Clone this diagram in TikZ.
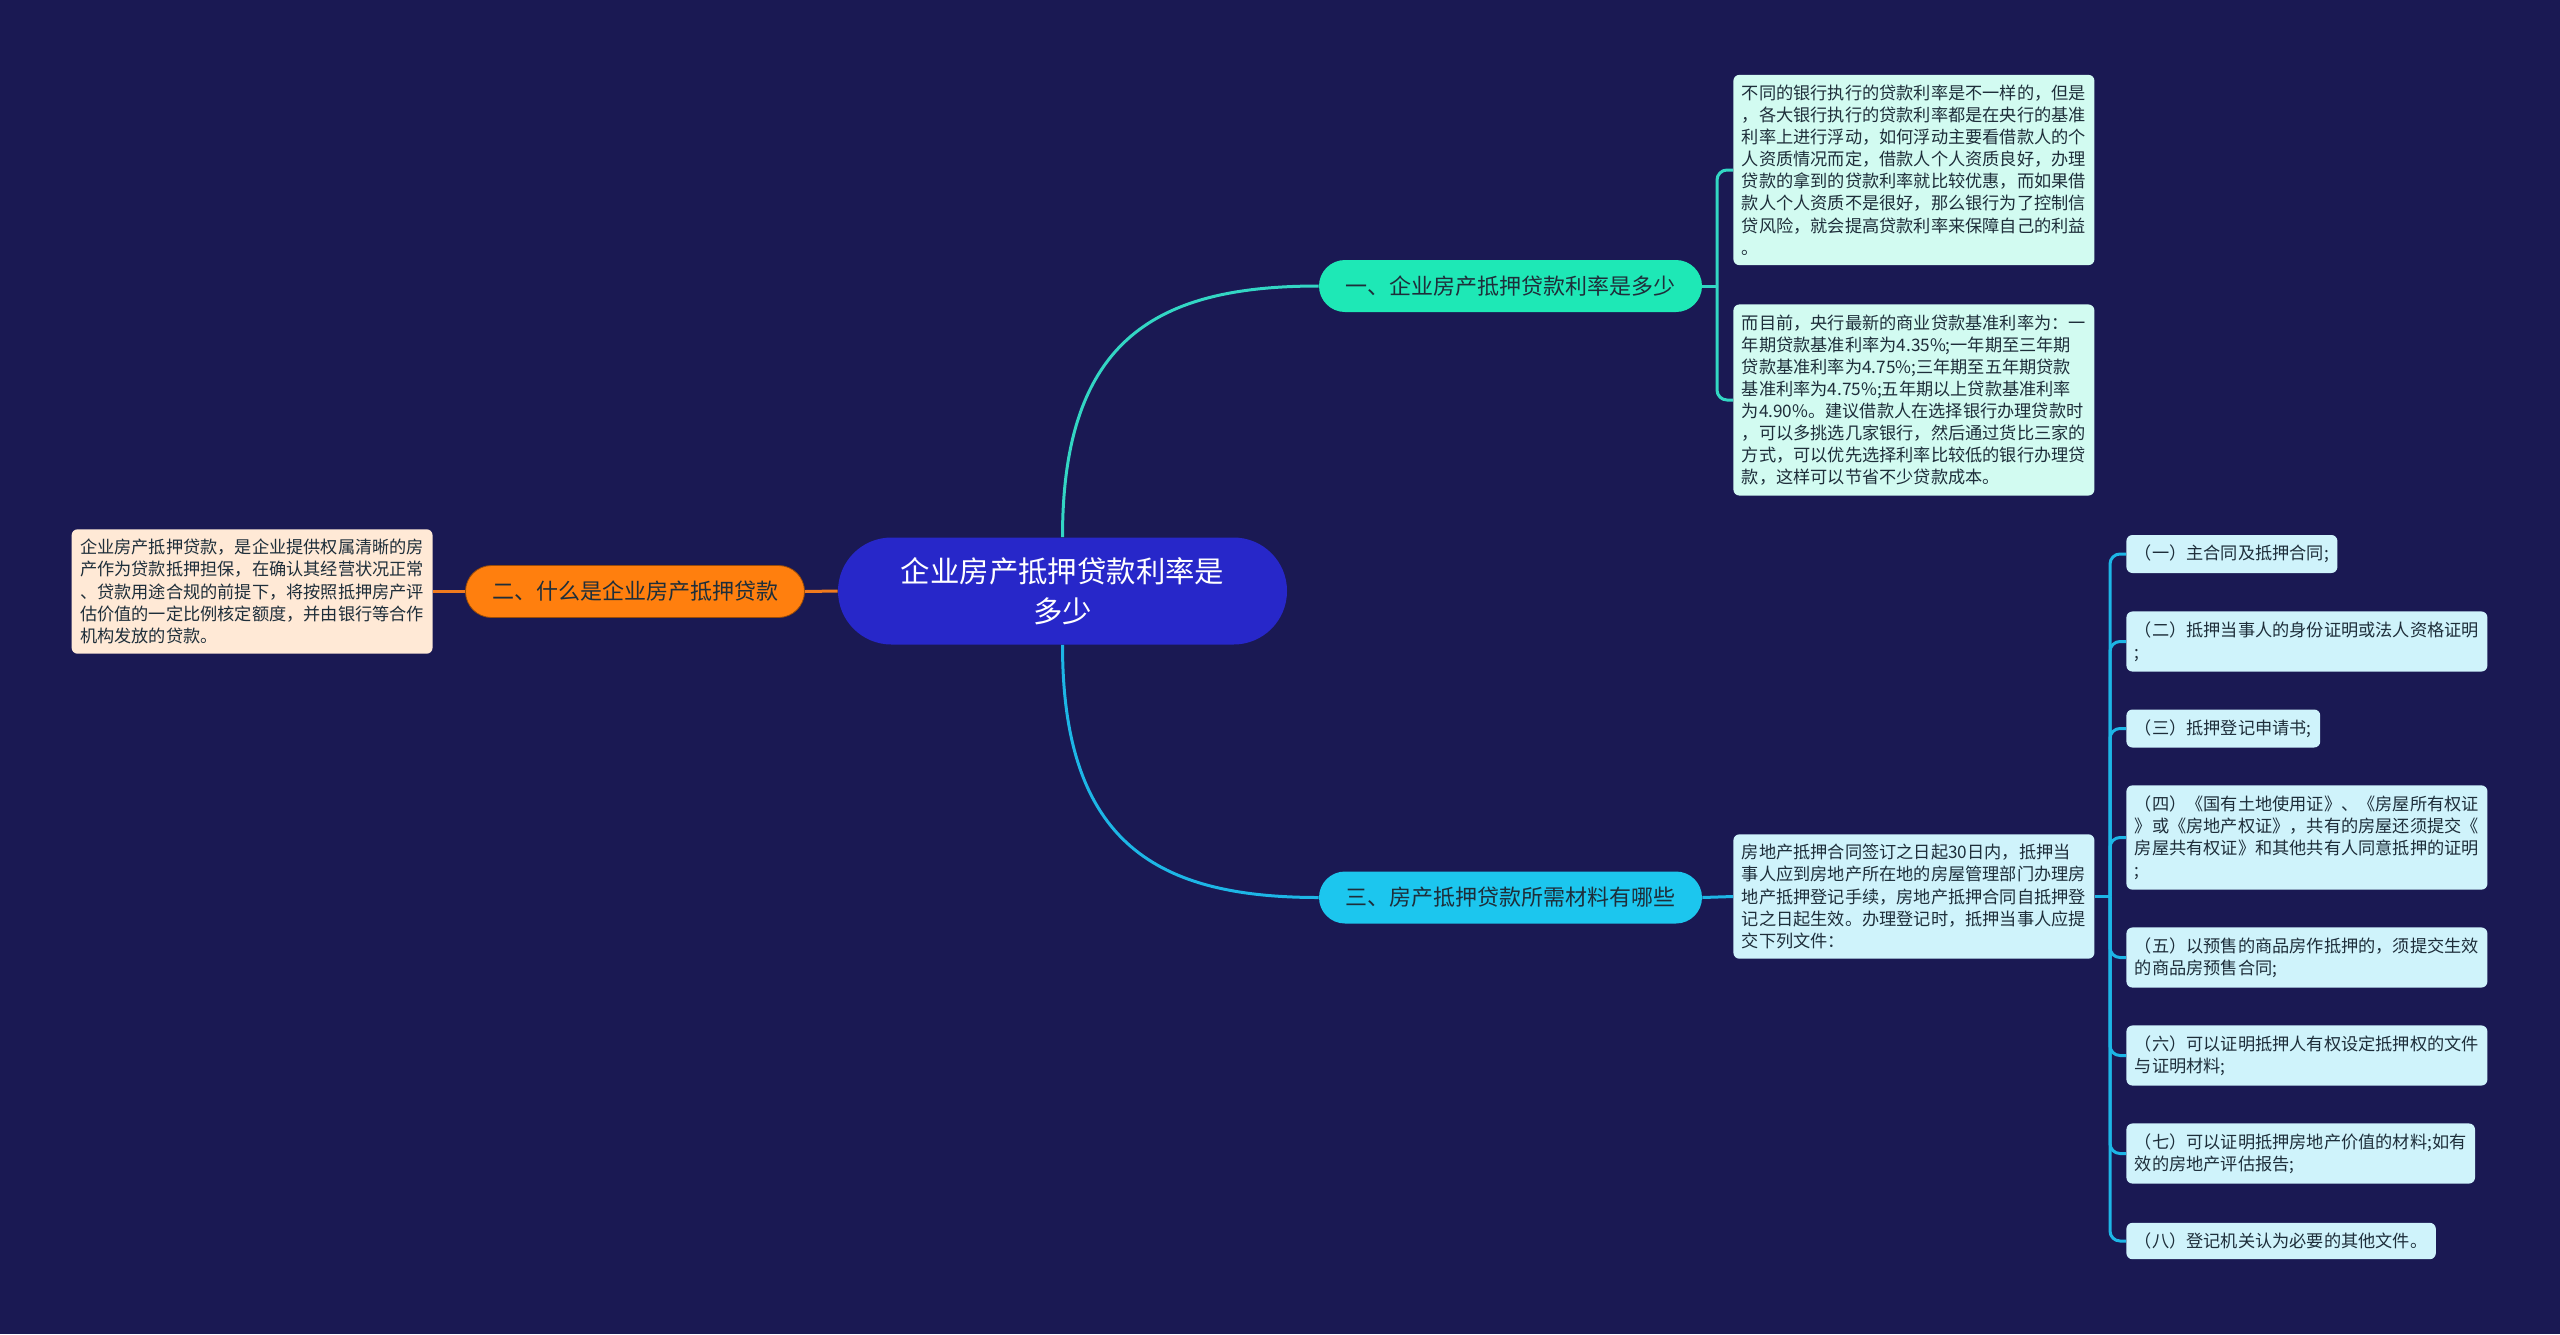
\documentclass[tikz,border=0pt]{standalone}
\usepackage{fontspec}
\setmainfont{Noto Sans CJK SC}
\usepackage{xcolor}
\usetikzlibrary{positioning}

\definecolor{bgnavy}{HTML}{1A1953}
\definecolor{rootblue}{HTML}{2727C9}
\definecolor{mintgreen}{HTML}{1EE8B6}
\definecolor{skycyan}{HTML}{1CC6EE}
\definecolor{topicorange}{HTML}{FF7F0E}
\definecolor{mintpale}{HTML}{D2FBF1}
\definecolor{cyanpale}{HTML}{CFF3FB}
\definecolor{peachpale}{HTML}{FFE9D6}
\definecolor{txtdark}{HTML}{1E2E3A}
\definecolor{rateline}{HTML}{33D6C4}
\definecolor{docsline}{HTML}{1DB6E6}
\definecolor{whatline}{HTML}{F07A1E}

\begin{document}
\begin{tikzpicture}[
      x=0.5pt, y=-0.5pt,
      every node/.style={inner xsep=4.25pt, inner ysep=5pt, align=left, text=txtdark},
      rootnode/.style={fill=rootblue, text=white, align=center, font=\fontsize{14.7}{20}\selectfont,
        minimum width=224.5pt, minimum height=53.5pt, rounded corners=26.7pt},
      topicnode/.style={font=\fontsize{11}{13}\selectfont, inner xsep=13.25pt, inner ysep=0pt,
        minimum height=26pt, rounded corners=13pt},
      notebox/.style={font=\fontsize{8.6}{11.05}\selectfont, rounded corners=3pt},
      link/.style={line width=1.5pt}
    ]
  \fill[bgnavy] (0,0) rectangle (2560,1334);
  \useasboundingbox (0,0) rectangle (2560,1334);

  % centre and topics
  \node[rootnode] (root) at (1062.5,591) {企业房产抵押贷款利率是\\多少};
  \node[topicnode, fill=mintgreen] (rate) at (1510.5,286) {一、企业房产抵押贷款利率是多少};
  \node[topicnode, fill=topicorange, draw=topicorange!60!black, line width=0.4pt] (what) at (635,591.5) {二、什么是企业房产抵押贷款};
  \node[topicnode, fill=skycyan] (docs) at (1510.5,897.5) {三、房产抵押贷款所需材料有哪些};

  % notes
  \node[notebox, fill=mintpale, anchor=west] (rateA) at (1733,170) {不同的银行执行的贷款利率是不一样的，但是\\，各大银行执行的贷款利率都是在央行的基准\\利率上进行浮动，如何浮动主要看借款人的个\\人资质情况而定，借款人个人资质良好，办理\\贷款的拿到的贷款利率就比较优惠，而如果借\\款人个人资质不是很好，那么银行为了控制信\\贷风险，就会提高贷款利率来保障自己的利益\\。};
  \node[notebox, fill=mintpale, anchor=west] (rateB) at (1733,400) {而目前，央行最新的商业贷款基准利率为：一\\年期贷款基准利率为4.35\%;一年期至三年期\\贷款基准利率为4.75\%;三年期至五年期贷款\\基准利率为4.75\%;五年期以上贷款基准利率\\为4.90\%。建议借款人在选择银行办理贷款时\\，可以多挑选几家银行，然后通过货比三家的\\方式，可以优先选择利率比较低的银行办理贷\\款，这样可以节省不少贷款成本。};
  \node[notebox, fill=peachpale, anchor=east] (whatA) at (433,591.5) {企业房产抵押贷款，是企业提供权属清晰的房\\产作为贷款抵押担保，在确认其经营状况正常\\、贷款用途合规的前提下，将按照抵押房产评\\估价值的一定比例核定额度，并由银行等合作\\机构发放的贷款。};
  \node[notebox, fill=cyanpale, anchor=west] (docsA) at (1733,896.5) {房地产抵押合同签订之日起30日内，抵押当\\事人应到房地产所在地的房屋管理部门办理房\\地产抵押登记手续，房地产抵押合同自抵押登\\记之日起生效。办理登记时，抵押当事人应提\\交下列文件：};

  % document list
  \node[notebox, fill=cyanpale, anchor=west] (item1) at (2126,554) {（一）主合同及抵押合同;};
  \node[notebox, fill=cyanpale, anchor=west] (item2) at (2126,641.5) {（二）抵押当事人的身份证明或法人资格证明\\;};
  \node[notebox, fill=cyanpale, anchor=west] (item3) at (2126,728.5) {（三）抵押登记申请书;};
  \node[notebox, fill=cyanpale, anchor=west] (item4) at (2126,837.5) {（四）《国有土地使用证》、《房屋所有权证\\》或《房地产权证》，共有的房屋还须提交《\\房屋共有权证》和其他共有人同意抵押的证明\\;};
  \node[notebox, fill=cyanpale, anchor=west] (item5) at (2126,957.5) {（五）以预售的商品房作抵押的，须提交生效\\的商品房预售合同;};
  \node[notebox, fill=cyanpale, anchor=west] (item6) at (2126,1055.5) {（六）可以证明抵押人有权设定抵押权的文件\\与证明材料;};
  \node[notebox, fill=cyanpale, anchor=west] (item7) at (2126,1153.5) {（七）可以证明抵押房地产价值的材料;如有\\效的房地产评估报告;};
  \node[notebox, fill=cyanpale, anchor=west] (item8) at (2126,1241) {（八）登记机关认为必要的其他文件。};

  \coordinate (rateJ) at (1717,286);
  \coordinate (docsJ) at (2110,896.5);

  % connectors
  \draw[link, rateline] (root.north) .. controls +(0,-200) and +(-160,0) .. (rate.west);
  \draw[link, docsline] (root.south) .. controls +(0,200) and +(-160,0) .. (docs.west);
  \draw[link, whatline] (root.west) -- (what.east);
  \draw[link, whatline] (what.west) -- (whatA.east);
  \draw[link, rateline] (rate.east) -- (rateJ);
  \draw[link, rateline, rounded corners=5pt] (rateJ) |- (rateA.west);
  \draw[link, rateline, rounded corners=5pt] (rateJ) |- (rateB.west);
  \draw[link, docsline] (docs.east) -- (docsA.west);
  \draw[link, docsline] (docsA.east) -- (docsJ);
  \draw[link, docsline, rounded corners=5pt] (docsJ) |- (item1.west);
  \draw[link, docsline, rounded corners=5pt] (docsJ) |- (item2.west);
  \draw[link, docsline, rounded corners=5pt] (docsJ) |- (item3.west);
  \draw[link, docsline, rounded corners=5pt] (docsJ) |- (item4.west);
  \draw[link, docsline, rounded corners=5pt] (docsJ) |- (item5.west);
  \draw[link, docsline, rounded corners=5pt] (docsJ) |- (item6.west);
  \draw[link, docsline, rounded corners=5pt] (docsJ) |- (item7.west);
  \draw[link, docsline, rounded corners=5pt] (docsJ) |- (item8.west);
\end{tikzpicture}
\end{document}
